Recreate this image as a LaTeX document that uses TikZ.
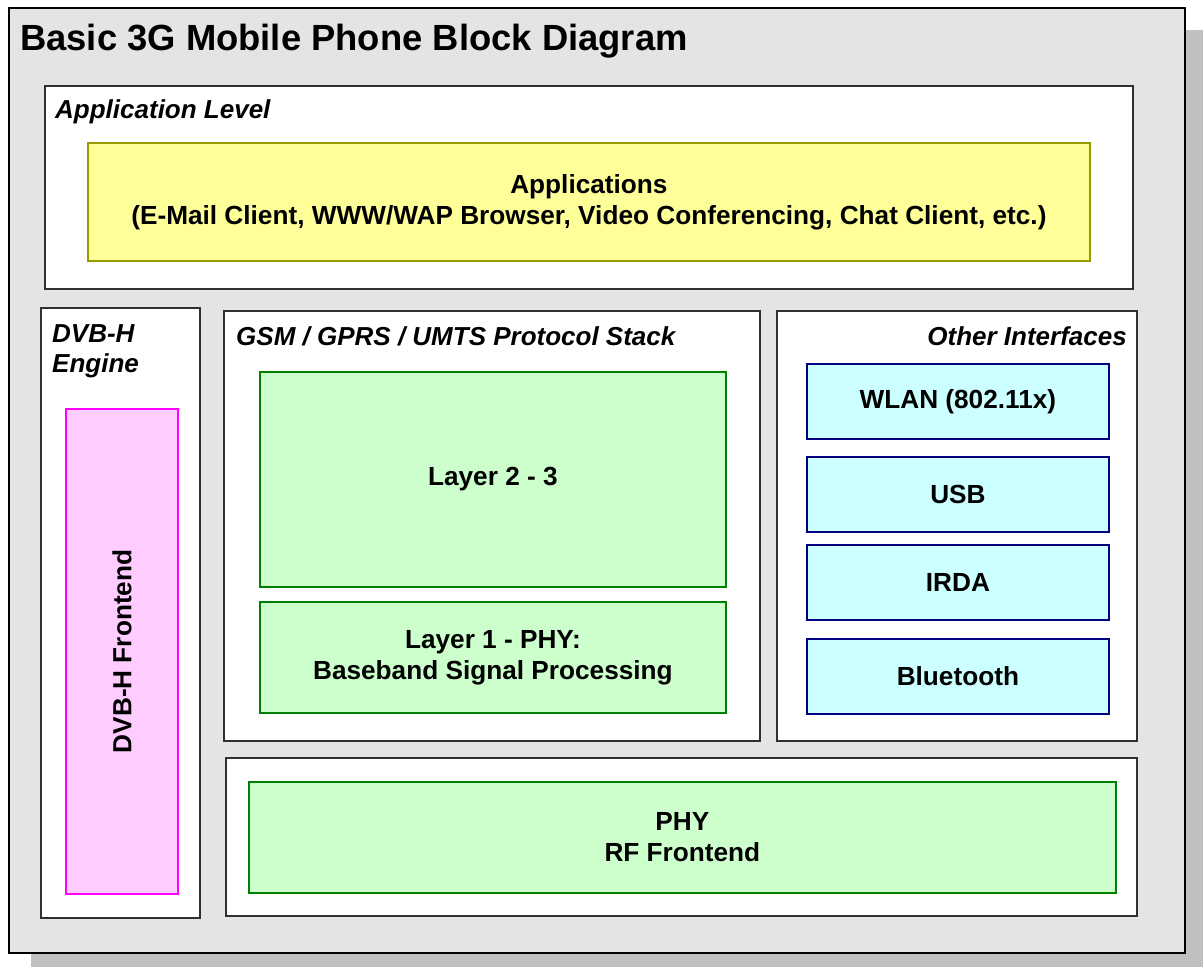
\documentclass[tikz,border=0pt]{standalone}
\usepackage{fontspec}
\setmainfont{Liberation Sans}

\definecolor{shadowgray}{HTML}{C0C0C0}
\definecolor{panelgray}{HTML}{E4E4E4}
\definecolor{appyellow}{HTML}{FFFF99}
\definecolor{appolive}{HTML}{999900}
\definecolor{gsmgreen}{HTML}{CCFFCC}
\definecolor{gsmedge}{HTML}{008000}
\definecolor{ifcyan}{HTML}{CCFFFF}
\definecolor{ifnavy}{HTML}{000080}
\definecolor{dvbpink}{HTML}{FFCCFF}
\definecolor{dvbmagenta}{HTML}{FF00FF}
\definecolor{groupedge}{HTML}{303030}

\begin{document}
\begin{tikzpicture}[x=1pt, y=-1pt,
  boxfont/.style={font=\fontsize{26.2}{31}\selectfont\bfseries},
  groupfont/.style={font=\fontsize{26}{30}\selectfont\bfseries\itshape},
  group/.style={draw=groupedge, fill=white, line width=1.3pt},
  block/.style={rectangle, anchor=north west, inner sep=0pt, align=center,
                line width=1.8pt, boxfont},
  appblock/.style={block, draw=appolive, fill=appyellow},
  gsmblock/.style={block, draw=gsmedge, fill=gsmgreen},
  ifblock/.style={block, draw=ifnavy, fill=ifcyan,
                  minimum width=302pt, minimum height=75pt},
  dvbblock/.style={block, draw=dvbmagenta, fill=dvbpink},
  grouplabel/.style={inner sep=0pt, groupfont}
]
\useasboundingbox (0,0) rectangle (1203,967);

% drop shadow and main panel
\fill[shadowgray] (31,30) rectangle (1203,967);
\draw[fill=panelgray, line width=2pt] (9,8) rectangle (1185,953);
\node[anchor=base west, inner sep=0pt,
      font=\fontsize{36.4}{43}\selectfont\bfseries] (title) at (20,50)
  {Basic 3G Mobile Phone Block Diagram};

% application level
\draw[group] (45,86) rectangle (1133,289);
\node[grouplabel, anchor=base west] (applevel) at (55,118) {Application Level};
\node[appblock, minimum width=1002pt, minimum height=118pt] (apps) at (87,142)
  {Applications\\(E-Mail Client, WWW/WAP Browser, Video Conferencing, Chat Client, etc.)};

% DVB-H engine
\draw[group] (41,308) rectangle (200,918);
\node[grouplabel, anchor=base west] (dvbtitleA) at (52,342) {DVB-H};
\node[grouplabel, anchor=base west] (dvbtitleB) at (52,372) {Engine};
\node[dvbblock, minimum width=112pt, minimum height=485pt] (dvbfront) at (65,408) {};
\node[boxfont, rotate=90, inner sep=0pt] (dvbfronttext) at (dvbfront.center) {DVB-H Frontend};

% protocol stack
\draw[group] (224,311) rectangle (760,741);
\node[grouplabel, anchor=base west] (gsmtitle) at (236,345) {GSM / GPRS / UMTS Protocol Stack};
\node[gsmblock, minimum width=466pt, minimum height=215pt] (layer23) at (259,371) {Layer 2 - 3};
\node[gsmblock, minimum width=466pt, minimum height=111pt] (layer1) at (259,601)
  {Layer 1 - PHY:\\Baseband Signal Processing};

% other interfaces
\draw[group] (777,311) rectangle (1137,741);
\node[grouplabel, anchor=base east] (iftitle) at (1127,345) {Other Interfaces};
\node[ifblock] (wlan) at (806,363) {WLAN (802.11x)};
\node[ifblock] (usb) at (806,456) {USB};
\node[ifblock] (irda) at (806,544) {IRDA};
\node[ifblock] (bt) at (806,638) {Bluetooth};

% RF frontend
\draw[group] (226,758) rectangle (1137,916);
\node[gsmblock, minimum width=867pt, minimum height=111pt] (rf) at (248,781)
  {PHY\\RF Frontend};
\end{tikzpicture}
\end{document}
